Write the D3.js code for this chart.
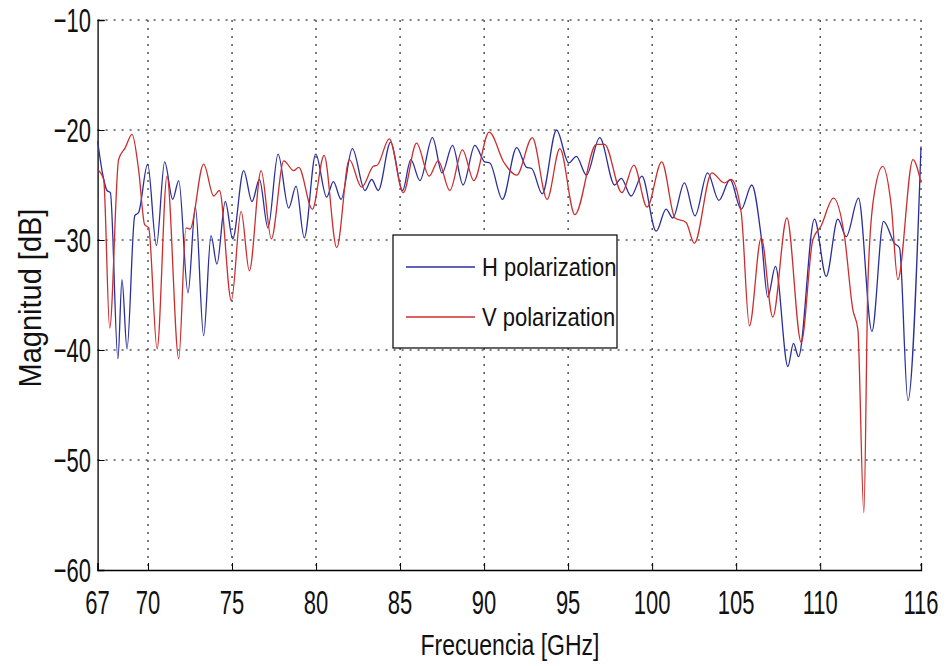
<!DOCTYPE html>
<html>
<head>
<meta charset="utf-8">
<script src="https://cdn.jsdelivr.net/npm/d3@7"></script>
<style>
  body { margin: 0; background: #fff; }
  text { font-family: "Liberation Sans", Arial, Helvetica, sans-serif; fill: #111; }
</style>
</head>
<body>
<div class="chart"></div>
<script>
// H polarization (blue) - frequency [GHz] / magnitude [dB]
var hFreq = [67.0, 67.3, 67.56, 67.76, 68.21, 68.45, 68.75, 69.21, 69.44, 69.98,
  70.5, 70.99, 71.47, 71.83, 72.38, 72.82, 73.31, 73.75, 74.1, 74.6,
  75.04, 75.69, 76.19, 76.63, 77.14, 77.74, 78.37, 78.81, 79.3, 79.98,
  80.63, 81.03, 81.49, 82.16, 82.91, 83.31, 83.7, 84.44, 85.15, 85.64,
  86.18, 86.93, 87.5, 88.12, 88.75, 89.45, 90.04, 90.34, 91.09, 91.94,
  92.53, 92.83, 93.46, 94.31, 95.04, 95.49, 96.09, 96.88, 97.77, 98.16,
  98.75, 99.39, 100.24, 100.83, 101.23, 101.92, 102.55, 103.3, 103.97, 104.64,
  105.3, 105.93, 106.49, 106.88, 107.34, 108.08, 108.41, 108.71, 109.66, 110.36,
  111.05, 111.55, 112.28, 113.08, 113.77, 114.42, 114.72, 115.22, 116.0];
var hMag = [-21.0, -24.0, -25.5, -25.7, -40.8, -33.6, -39.9, -27.8, -27.5, -23.1,
  -30.5, -22.9, -26.3, -24.6, -34.8, -27.0, -38.7, -29.6, -32.2, -26.5,
  -29.9, -23.7, -26.5, -24.5, -28.9, -22.2, -27.1, -25.1, -29.8, -22.2,
  -26.1, -24.7, -26.3, -21.7, -25.5, -24.5, -25.5, -21.1, -25.5, -22.7,
  -24.6, -20.7, -23.9, -21.4, -25.0, -21.4, -22.9, -23.0, -26.3, -21.6,
  -23.4, -23.5, -25.8, -20.0, -23.0, -22.4, -24.1, -20.7, -25.0, -24.4,
  -26.0, -24.2, -29.2, -27.2, -28.0, -24.8, -27.8, -23.9, -26.4, -24.5,
  -27.2, -25.0, -29.7, -35.2, -32.4, -41.5, -39.4, -40.6, -28.1, -33.3,
  -28.1, -29.7, -26.2, -38.3, -28.3, -30.3, -30.7, -44.6, -21.5];

// V polarization (red)
var vFreq = [67.0, 67.36, 67.72, 68.25, 68.65, 69.05, 69.44, 69.8, 70.04, 70.54,
  71.13, 71.83, 72.26, 72.5, 73.31, 73.91, 74.25, 74.96, 75.54, 76.03,
  76.73, 77.34, 78.08, 78.67, 78.97, 79.78, 80.48, 81.23, 81.98, 82.71,
  83.41, 83.64, 84.36, 85.19, 85.98, 86.73, 87.27, 87.96, 88.71, 89.39,
  90.3, 91.2, 91.94, 92.87, 93.75, 94.51, 95.4, 96.68, 97.17, 98.2,
  98.91, 99.7, 100.57, 101.36, 102.02, 102.51, 103.55, 104.3, 104.7, 105.3,
  105.79, 106.49, 107.18, 108.02, 108.87, 109.56, 110.06, 110.79, 111.45, 111.94,
  112.24, 112.6, 112.84, 113.17, 113.73, 114.23, 114.62, 115.52, 116.0];
var vMag = [-23.6, -24.5, -38.0, -22.7, -21.6, -20.4, -23.6, -28.6, -28.9, -39.9,
  -24.2, -40.8, -28.9, -29.0, -23.1, -26.0, -25.5, -35.5, -27.4, -32.8,
  -23.7, -29.9, -22.8, -23.7, -23.4, -27.2, -22.3, -30.7, -22.7, -25.2,
  -23.3, -23.2, -20.8, -25.7, -21.2, -24.2, -22.8, -25.5, -21.8, -24.6,
  -20.2, -23.0, -24.1, -20.7, -26.3, -21.7, -27.7, -21.3, -21.3, -25.7,
  -23.2, -27.0, -22.9, -28.0, -28.4, -30.3, -23.9, -24.8, -24.5, -27.5,
  -37.8, -29.8, -37.0, -28.0, -39.3, -30.0, -28.7, -26.2, -29.7, -36.3,
  -38.1, -54.8, -33.9, -26.3, -23.3, -26.9, -33.6, -22.7, -24.8];

var xTicks = [67, 70, 75, 80, 85, 90, 95, 100, 105, 110, 116];
var yTicks = [-60, -50, -40, -30, -20, -10];
var seriesNames = ["H polarization", "V polarization"];
var seriesColors = ["#2b2f9c", "#cc2e2e"];

function init() {
  var w = 947;
  var h = 666;
  var left = 97.6, right = 921, top = 20, bottom = 570;

  var svg = d3.select(".chart")
    .append("svg")
    .attr("width", w)
    .attr("height", h);

  var xScale = d3.scaleLinear().domain([67, 116]).range([left, right]);
  var yScale = d3.scaleLinear().domain([-60, -10]).range([bottom, top]);

  // stretched text like the original figure
  function label(x, y, str, size, sy, anchor, rot) {
    var t = "translate(" + x + "," + y + ")" + (rot ? " rotate(" + rot + ")" : "") + " scale(1," + sy + ")";
    return svg.append("text")
      .attr("transform", t)
      .attr("text-anchor", anchor)
      .style("font-size", size + "px")
      .text(str);
  }

  // dotted grid
  var grid = svg.append("g");
  grid.selectAll(".gx")
    .data(xTicks.slice(1))
    .enter()
    .append("line")
    .attr("x1", function(d) { return xScale(d); })
    .attr("x2", function(d) { return xScale(d); })
    .attr("y1", top)
    .attr("y2", bottom)
    .attr("stroke", "#000")
    .attr("stroke-width", 1)
    .attr("stroke-dasharray", "2,6");
  grid.selectAll(".gy")
    .data(yTicks.slice(1))
    .enter()
    .append("line")
    .attr("x1", left)
    .attr("x2", right)
    .attr("y1", function(d) { return yScale(d); })
    .attr("y2", function(d) { return yScale(d); })
    .attr("stroke", "#000")
    .attr("stroke-width", 1)
    .attr("stroke-dasharray", "2,6");

  // axes (ticks inside, MATLAB style)
  var xAxis = d3.axisTop(xScale).tickValues(xTicks).tickSize(7).tickFormat("");
  var yAxis = d3.axisRight(yScale).tickValues(yTicks).tickSize(7).tickFormat("");
  var gx = svg.append("g")
    .attr("transform", "translate(0," + bottom + ")")
    .call(xAxis);
  var gy = svg.append("g")
    .attr("transform", "translate(" + left + ",0)")
    .call(yAxis);
  [gx, gy].forEach(function(g) {
    g.select(".domain").attr("stroke", "#000").attr("stroke-width", 1.3);
    g.selectAll(".tick line").attr("stroke", "#000");
  });

  xTicks.forEach(function(d) {
    label(xScale(d), 614, d, 22, 1.55, "middle");
  });
  yTicks.forEach(function(d) {
    label(91, yScale(d) + 12, "\u2212" + Math.abs(d), 22, 1.55, "end");
  });

  // series
  var line = d3.line()
    .x(function(d) { return xScale(d[0]); })
    .y(function(d) { return yScale(d[1]); })
    .curve(d3.curveMonotoneX);

  var series = [
    hFreq.map(function(f, i) { return [f, hMag[i]]; }),
    vFreq.map(function(f, i) { return [f, vMag[i]]; })
  ];

  series.forEach(function(s, i) {
    svg.append("path")
      .datum(s)
      .attr("fill", "none")
      .attr("stroke", seriesColors[i])
      .attr("stroke-width", 1.3)
      .attr("d", line);
  });

  // legend
  var lg = svg.append("g");
  lg.append("rect")
    .attr("x", 393)
    .attr("y", 235)
    .attr("width", 224)
    .attr("height", 113)
    .attr("fill", "#fff")
    .attr("stroke", "#000")
    .attr("stroke-width", 1.2);
  seriesNames.forEach(function(name, i) {
    var yy = 267 + i * 50;
    lg.append("line")
      .attr("x1", 406)
      .attr("x2", 475)
      .attr("y1", yy)
      .attr("y2", yy)
      .attr("stroke", seriesColors[i])
      .attr("stroke-width", 1.3);
    label(482, yy + 9, name, 22, 1.2, "start");
  });

  // axis titles
  label(510, 655, "Frecuencia [GHz]", 23, 1.3, "middle");
  label(41, 298, "Magnitud [dB]", 29, 1.05, "middle", -90);
}
window.onload = init;
</script>
</body>
</html>
